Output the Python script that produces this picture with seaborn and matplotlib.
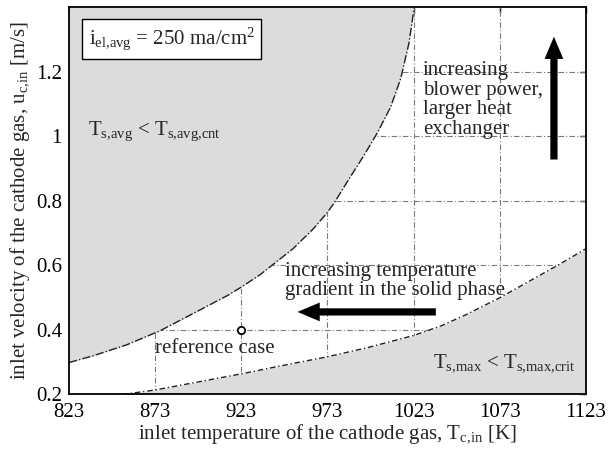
import numpy as np
import pandas as pd
import matplotlib
matplotlib.use("Agg")
import matplotlib.pyplot as plt
import seaborn as sns

# ---- data ----
x_ticks = [823, 873, 923, 973, 1023, 1073, 1123]
y_ticks = [0.2, 0.4, 0.6, 0.8, 1.0, 1.2]
y_tick_labels = ["0.2", "0.4", "0.6", "0.8", "1", "1.2"]

# boundary of T_s,avg < T_s,avg,crit region (upper-left)
upper_T = [823, 837, 856.5, 876, 895, 915, 923, 934, 953, 965, 973, 977,
           984.5, 994, 1002, 1009.7, 1015.5, 1020.3, 1023.3]
upper_u = [0.299, 0.32, 0.354, 0.398, 0.451, 0.507, 0.533, 0.572, 0.652, 0.715, 0.765, 0.795,
           0.86, 0.94, 1.012, 1.092, 1.18, 1.29, 1.4]

# boundary of T_s,max < T_s,max,crit region (lower-right)
lower_T = [854, 873, 899, 923, 948, 973, 996, 1023, 1039, 1054, 1064, 1073,
           1083, 1095, 1108, 1123]
lower_u = [0.2, 0.214, 0.24, 0.264, 0.291, 0.317, 0.345, 0.383, 0.413, 0.449, 0.476, 0.50,
           0.53, 0.566, 0.605, 0.652]

ref_T = [923]
ref_u = [0.4]

sns.set_theme(style="white")
plt.rcParams["font.family"] = ["Liberation Serif", "DejaVu Serif"]
plt.rcParams["mathtext.fontset"] = "custom"
plt.rcParams["mathtext.rm"] = "Liberation Serif"
plt.rcParams["mathtext.it"] = "Liberation Serif:italic"
plt.rcParams["mathtext.bf"] = "Liberation Serif:bold"

FS = 15
fig = plt.figure(figsize=(6.12, 4.51), dpi=100)
ax = fig.add_axes([0.1127, 0.1253, 0.8448, 0.8581])
ax.set_xlim(823, 1123)
ax.set_ylim(0.2, 1.4)

grey = "#dcdcdc"
grid_kw = dict(color="#7a7a7a", lw=0.8, ls=(0, (5, 2, 1, 2)), zorder=0.8)
for t in x_ticks[1:-1]:
    ax.axvline(t, **grid_kw)
for u in y_ticks[1:]:
    ax.axhline(u, **grid_kw)

up = pd.DataFrame({"T": upper_T, "u": upper_u})
lo = pd.DataFrame({"T": lower_T, "u": lower_u})

ax.fill_between(up["T"], up["u"], 1.4, color=grey, lw=0, zorder=1)
ax.fill_between(lo["T"], 0.2, lo["u"], color=grey, lw=0, zorder=1)

sns.lineplot(data=up, x="T", y="u", ax=ax, color="#222222", lw=1.0,
             linestyle=(0, (6, 1.5, 1, 1.5)), sort=False, zorder=2)
sns.lineplot(data=lo, x="T", y="u", ax=ax, color="#222222", lw=1.0,
             linestyle=(0, (4, 2, 1, 2)), sort=False, zorder=2)

sns.scatterplot(x=ref_T, y=ref_u, ax=ax, s=28, marker="o", facecolor="white",
                edgecolor="black", linewidth=1.3, zorder=4)

# arrows
arrow_style = "simple,head_width=1.35,head_length=1.6,tail_width=0.52"
ax.annotate("", xy=(1104.4, 1.318), xytext=(1104.4, 0.92),
            arrowprops=dict(arrowstyle=arrow_style, mutation_scale=10,
                            color="black", lw=0), zorder=5)
ax.annotate("", xy=(954.0, 0.456), xytext=(1037.5, 0.456),
            arrowprops=dict(arrowstyle=arrow_style, mutation_scale=10,
                            color="black", lw=0), zorder=5)

# texts
ax.text(882.5, 1.302, r"$\mathrm{i_{el{,}avg}}$ = 250 ma/cm$^{2}$", fontsize=FS,
        ha="center", va="center", zorder=6,
        bbox=dict(boxstyle="square,pad=0.3", fc="white", ec="black", lw=1.0))
ax.text(834, 1.005, r"T$_{\mathrm{s{,}avg}}$ < T$_{\mathrm{s{,}avg{,}cnt}}$", fontsize=FS,
        ha="left", va="baseline", zorder=6)
ax.text(1034.5, 0.286, r"T$_{\mathrm{s{,}max}}$ < T$_{\mathrm{s{,}max{,}crit}}$", fontsize=FS,
        ha="left", va="baseline", zorder=6)
ax.text(1028.3, 1.113, "increasing\nblower power,\nlarger heat\nexchanger", fontsize=FS,
        ha="left", va="center", linespacing=1.05, zorder=6)
ax.text(948.6, 0.552, "increasing temperature\ngradient in the solid phase", fontsize=FS,
        ha="left", va="center", linespacing=1.0, zorder=6)
ax.text(907.9, 0.33, "reference case", fontsize=FS, ha="center", va="baseline", zorder=6)

ax.set_xticks(x_ticks)
ax.set_xticklabels([str(t) for t in x_ticks])
ax.set_yticks(y_ticks)
ax.set_yticklabels(y_tick_labels)
ax.tick_params(direction="in", length=4, width=1, top=True, right=True,
               labelsize=FS, pad=6, colors="black")
ax.tick_params(axis="y", pad=5)
for s in ax.spines.values():
    s.set_visible(True)
    s.set_color("black")
    s.set_linewidth(1.3)
    s.set_zorder(7)

ax.set_xlabel(r"inlet temperature of the cathode gas, T$_{\mathrm{c{,}in}}$ [K]", fontsize=FS, labelpad=1)
ax.set_ylabel(r"inlet velocity of the cathode gas, u$_{\mathrm{c{,}in}}$ [m/s]", fontsize=FS, labelpad=3)

fig.savefig("out.png", dpi=100, facecolor="white")
